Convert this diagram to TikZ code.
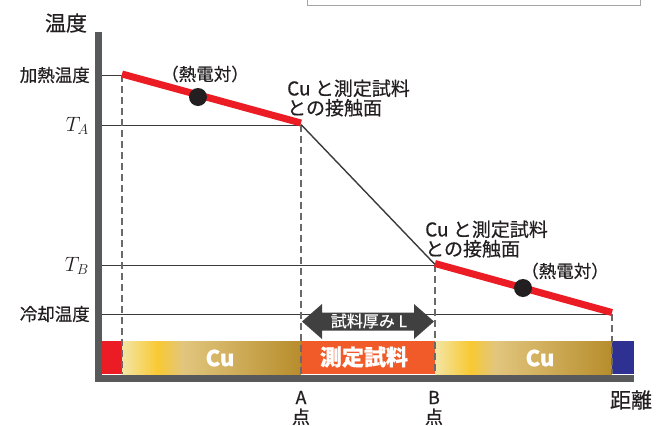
\documentclass[tikz,border=0pt]{standalone}
\usepackage{fontspec}
\setmainfont{Noto Sans CJK JP}[FakeBold=0.5]
\definecolor{txt}{HTML}{231F20}
\definecolor{axisgray}{HTML}{58595B}
\definecolor{lineblk}{HTML}{3A3A3A}
\definecolor{dashgray}{HTML}{6A6A6A}
\definecolor{tred}{HTML}{EC1C24}
\definecolor{sorange}{HTML}{F15A29}
\definecolor{eblue}{HTML}{2E3192}
\definecolor{arrgray}{HTML}{404040}
\definecolor{cuA}{HTML}{F3E5A6}
\definecolor{cuB}{HTML}{F8C932}
\definecolor{cuC}{HTML}{E2C67E}
\definecolor{cuD}{HTML}{B78D2C}
\pgfdeclarehorizontalshading{cugrad}{100bp}{color(0bp)=(cuA); color(25bp)=(cuA); color(35bp)=(cuB); color(42bp)=(cuC); color(75bp)=(cuD); color(100bp)=(cuD)}
\tikzset{
  thinln/.style={draw=lineblk, line width=0.9pt},
  slopeln/.style={draw=lineblk, line width=1.4pt},
  vdashed/.style={draw=dashgray, line width=1.1pt, dash pattern=on 7pt off 4pt},
  redln/.style={draw=tred, line width=7pt},
  lbl/.style={text=txt, inner sep=0pt},
  cubox/.style={shading=cugrad, draw=none},
  whitebold/.style={text=white, inner sep=0pt, font=\bfseries\fontsize{22}{22}\selectfont},
}
\begin{document}
\begin{tikzpicture}[x=1pt,y=-1pt]
\useasboundingbox (0,0) rectangle (665,426);
% top box
\draw[draw=gray!70, line width=0.8pt, fill=white] (307,-10) rectangle (640,5);

% coordinates
\coordinate (hot) at (122,75);
\coordinate (ta) at (301,124.5);
\coordinate (tb) at (435,264.5);
\coordinate (cold) at (612,313.5);

% horizontal guide lines
\draw[thinln] (101,75) -- (hot);
\draw[thinln] (101,125.5) -- (301,125.5);
\draw[thinln] (101,265) -- (435,265);
\draw[thinln] (101,314) -- (612,314);

% bar
\fill[tred] (101,341) rectangle (122,374);
\shade[cubox] (122,341) rectangle (301,374);
\fill[sorange] (301,341) rectangle (435,374);
\shade[cubox] (435,341) rectangle (612,374);
\fill[eblue] (612,341) rectangle (634,374);
\node[whitebold] (cu1) at (220,358) {Cu};
\node[whitebold] (samp) at (364,357) {測定試料};
\node[whitebold] (cu2) at (540,358) {Cu};

% dashed verticals
\draw[vdashed] (hot) -- (122,374);
\draw[vdashed] (ta) -- (301,374);
\draw[vdashed] (tb) -- (435,374);
\draw[vdashed] (cold) -- (612,374);

% axes
\fill[axisgray] (95,32) rectangle (101.5,382);
\fill[axisgray] (95,375) rectangle (634,382);

% temperature profile
\draw[redln] (122,74) -- (301,123);
\draw[slopeln] (ta) -- (tb);
\draw[redln] (435,263.5) -- (612,312.5);
\fill[txt] (198,97) circle (9);
\fill[txt] (523,288) circle (9);

% thickness arrow
\fill[arrgray] (302,321.5) -- (322,304) -- (322,312.5) -- (414,312.5) -- (414,304) -- (434,321.5) -- (414,339) -- (414,330.5) -- (322,330.5) -- (322,339) -- cycle;
\node[text=white, inner sep=0pt, font=\fontsize{16}{16}\selectfont] (thick) at (369,321) {試料厚み L};

% labels
\node[lbl, font=\fontsize{21}{21}\selectfont] (ylab) at (66,23) {温度};
\node[lbl, anchor=east, font=\fontsize{17.5}{18}\selectfont] (hotlab) at (90,75) {加熱温度};
\node[lbl, anchor=east, font=\fontsize{17.5}{18}\selectfont] (coldlab) at (90,314) {冷却温度};
\node[lbl, anchor=east, font=\fontsize{21}{21}\selectfont] (talab) at (89,126) {$T_A$};
\node[lbl, anchor=east, font=\fontsize{21}{21}\selectfont] (tblab) at (89,266) {$T_B$};
\node[lbl, font=\fontsize{17.5}{17.5}\selectfont] (tc1) at (205,74) {（熱電対）};
\node[lbl, font=\fontsize{17.5}{17.5}\selectfont] (tc2) at (565,271) {（熱電対）};
\node[lbl, anchor=west, align=left, font=\fontsize{19}{19.5}\selectfont] (if1) at (287,98) {Cu と測定試料\\との接触面};
\node[lbl, anchor=west, align=left, font=\fontsize{19}{19.5}\selectfont] (if2) at (425,239) {Cu と測定試料\\との接触面};
\node[lbl, align=center, font=\fontsize{18}{19.5}\selectfont] (alab) at (301,408) {A\\点};
\node[lbl, align=center, font=\fontsize{18}{19.5}\selectfont] (blab) at (434,408) {B\\点};
\node[lbl, font=\fontsize{21}{21}\selectfont] (xlab) at (631,400) {距離};
\end{tikzpicture}
\end{document}
